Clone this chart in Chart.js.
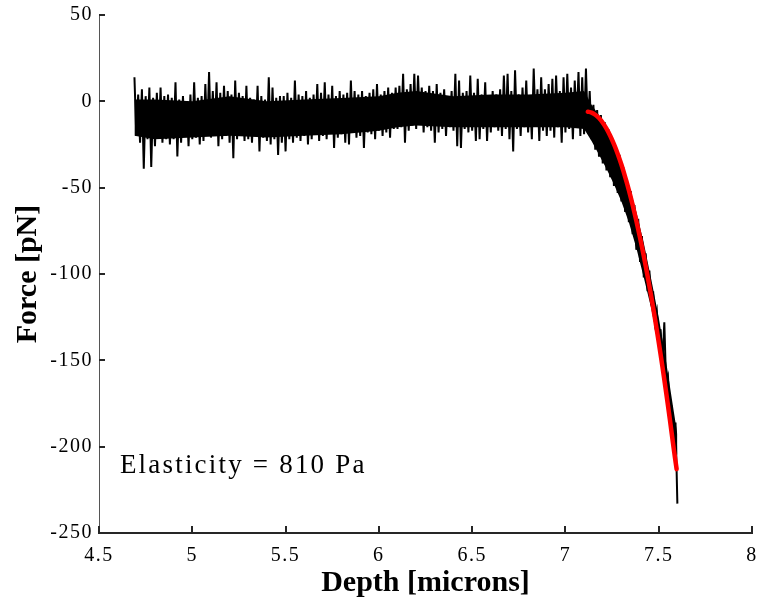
<!DOCTYPE html>
<html><head><meta charset="utf-8">
<script src="https://cdn.jsdelivr.net/npm/chart.js@4.4.1/dist/chart.umd.min.js"></script>
<style>html,body{margin:0;padding:0;background:#fff}#wrap{width:764px;height:606px;position:relative}</style>
</head><body><div id="wrap"><canvas id="c"></canvas></div>
<script>
// ---- data ----
const depthStart = 4.69;   // first sample of the measured trace [microns]
const depthStep = 0.02;    // trace sampling step [microns]
// peaks and troughs of the noisy force trace [pN]
const forceHigh = [
14,4,7,3,8,2,5,8,3,4,
2,11,1,3,0,4,11,2,3,10,
17,6,11,5,9,6,4,12,5,3,
9,2,1,9,3,1,14,8,2,3,
3,5,2,12,4,3,6,2,4,10,
5,11,4,9,3,6,4,5,12,6,
4,6,3,5,7,10,4,6,8,5,
8,9,16,7,10,16,15,8,6,9,
6,10,5,7,3,6,16,12,5,6,
15,5,13,4,11,3,6,4,7,15,
16,6,18,4,8,12,3,19,7,14,
7,10,13,15,6,14,16,8,12,17,
14,19,6,-2,-5,-8,-12,-16,-21,-26,
-31,-38,-45,-52,-60,-68,-78,-88,-98,-110,
-122,-132,-128,-160,-178,-186];
const forceLow = [
-20,-24,-39,-22,-38,-26,-21,-24,-22,-25,
-22,-32,-24,-20,-26,-22,-21,-25,-23,-20,
-21,-20,-26,-22,-20,-24,-33,-22,-19,-23,
-22,-24,-20,-29,-21,-23,-25,-22,-31,-24,
-29,-22,-24,-21,-23,-20,-25,-22,-19,-23,
-20,-22,-18,-27,-21,-19,-24,-25,-18,-21,
-20,-27,-18,-19,-22,-17,-20,-18,-21,-16,
-16,-15,-24,-17,-14,-16,-13,-18,-15,-17,
-24,-18,-16,-20,-15,-17,-26,-27,-16,-18,
-17,-23,-22,-16,-23,-18,-15,-17,-20,-16,
-22,-29,-16,-20,-15,-18,-22,-14,-23,-17,
-20,-17,-21,-15,-24,-18,-16,-22,-14,-20,
-19,-16,-22,-28,-32,-36,-40,-44,-49,-53,
-58,-64,-70,-77,-86,-93,-102,-110,-118,-128,
-140,-152,-165,-180,-200,-233];
// dense (solid) core of the noisy band
const coreDepth  = [4.69,4.8,5.0,5.2,5.4,5.6,5.8,6.0,6.1,6.2,6.4,6.6,6.8,7.0,7.1,7.14,7.18,7.22,7.26,7.30,7.34,7.38,7.42,7.46,7.50,7.54,7.58,7.60];
const coreTop    = [1,1,0,3,0,1,2,3,5,6,3,4,4,5,6,-2,-8,-15,-24,-35,-48,-64,-82,-103,-125,-151,-179,-193];
const coreBottom = [-20,-22,-21,-20,-21,-20,-19,-17,-15,-14,-15,-15,-15,-15,-16,-23,-31,-39,-48,-58,-70,-85,-102,-120,-142,-167,-195,-205];
// fitted (red) curve
const fitDepth = [7.12,7.14,7.16,7.18,7.20,7.22,7.24,7.26,7.28,7.30,7.32,7.34,7.36,7.38,7.40,7.42,7.44,7.46,7.48,7.50,7.52,7.54,7.56,7.58,7.596];
const fitForce = [-6,-6.5,-7.8,-9.7,-12.4,-15.8,-19.9,-24.8,-30.3,-36.6,-43.7,-51.4,-59.9,-69.1,-79,-89.6,-101,-113.1,-125.9,-139.4,-153.7,-168.7,-184.4,-200.8,-213];
// tick labels
const xTicks = [4.5,5,5.5,6,6.5,7,7.5,8];
const yTicks = [-250,-200,-150,-100,-50,0,50];
const xTitle = 'Depth [microns]';
const yTitle = 'Force [pN]';
const annotationText = 'Elasticity = 810 Pa';
const annotationAt = {x: 4.612, y: -215};

// ---- build library structures ----
const trace = [];
forceHigh.forEach((h, i) => {
  const d = depthStart + depthStep * i;
  trace.push({x: d, y: h});
  trace.push({x: d + depthStep / 2, y: forceLow[i]});
});
const core1 = coreDepth.map((d, i) => ({x: d, y: coreTop[i]}));
const core2 = coreDepth.map((d, i) => ({x: d, y: coreBottom[i]}));
const fit = fitDepth.map((d, i) => ({x: d, y: fitForce[i]}));

const FONT = '"Liberation Serif", "Times New Roman", Times, serif';

const axisPlugin = {
  id: 'axisPlugin',
  beforeDraw(chart) { chart.ctx.letterSpacing = '0px'; },
  afterDatasetsDraw(chart) { chart.ctx.letterSpacing = '1.5px'; },
  afterDraw(chart) {
    const {ctx, chartArea, scales: {x, y}} = chart;
    ctx.save();
    ctx.letterSpacing = '0px';
    ctx.strokeStyle = '#262626';
    ctx.lineWidth = 2;
    ctx.beginPath();
    x.ticks.forEach(t => {
      const px = Math.round(x.getPixelForValue(t.value));
      ctx.moveTo(px, chartArea.bottom);
      ctx.lineTo(px, chartArea.bottom - 7);
    });
    y.ticks.forEach(t => {
      const py = Math.round(y.getPixelForValue(t.value));
      ctx.moveTo(chartArea.left, py);
      ctx.lineTo(chartArea.left + 6, py);
    });
    ctx.stroke();
    ctx.font = '27px ' + FONT;
    ctx.letterSpacing = '2.2px';
    ctx.fillStyle = '#000';
    ctx.textBaseline = 'alphabetic';
    ctx.textAlign = 'left';
    ctx.fillText(annotationText, x.getPixelForValue(annotationAt.x), y.getPixelForValue(annotationAt.y));
    ctx.restore();
    ctx.letterSpacing = '0px';
  }
};

new Chart(document.getElementById('c'), {
  type: 'line',
  data: {
    datasets: [
      {label: 'fit', data: fit, borderColor: '#ff0000', borderWidth: 4.5, borderCapStyle: 'round', borderJoinStyle: 'round', pointRadius: 0, fill: false, tension: 0.2},
      {label: 'trace', data: trace, borderColor: '#000', borderWidth: 2, pointRadius: 0, fill: false, tension: 0},
      {label: 'coreTop', data: core1, borderColor: '#000', backgroundColor: '#000', borderWidth: 0, pointRadius: 0, fill: '+1', tension: 0},
      {label: 'coreBottom', data: core2, borderColor: '#000', borderWidth: 0, pointRadius: 0, fill: false, tension: 0}
    ]
  },
  options: {
    responsive: true,
    maintainAspectRatio: false,
    animation: false,
    events: [],
    layout: {padding: {top: 15, right: 12, left: 0, bottom: 0}},
    plugins: {legend: {display: false}, tooltip: {enabled: false}},
    scales: {
      x: {
        type: 'linear', min: 4.5, max: 8,
        afterBuildTicks: s => { s.ticks = xTicks.map(v => ({value: v})); },
        afterFit: s => { s.height = 73; s.paddingLeft = 0; s.paddingRight = 0; },
        grid: {display: false, drawTicks: false, tickLength: 0},
        border: {display: true, color: '#262626', width: 2},
        ticks: {font: {family: FONT, size: 20}, color: '#000', padding: 11, maxRotation: 0, autoSkip: false, z: 1, callback: v => String(v)},
        title: {display: true, text: xTitle, color: '#000', font: {family: FONT, size: 30, weight: 'bold'}, padding: {top: 0, bottom: 5}}
      },
      y: {
        type: 'linear', min: -250, max: 50,
        afterBuildTicks: s => { s.ticks = yTicks.map(v => ({value: v})); },
        afterFit: s => { s.width = 99; s.paddingTop = 0; s.paddingBottom = 0; },
        grid: {display: false, drawTicks: false, tickLength: 0},
        border: {display: true, color: '#555', width: 1},
        ticks: {font: {family: FONT, size: 20}, color: '#000', padding: 6, autoSkip: false, z: 1, callback: v => String(v)},
        title: {display: true, text: yTitle, color: '#000', font: {family: FONT, size: 30, weight: 'bold'}, padding: {top: 10, bottom: 0}}
      }
    }
  },
  plugins: [axisPlugin]
});
</script></body></html>
